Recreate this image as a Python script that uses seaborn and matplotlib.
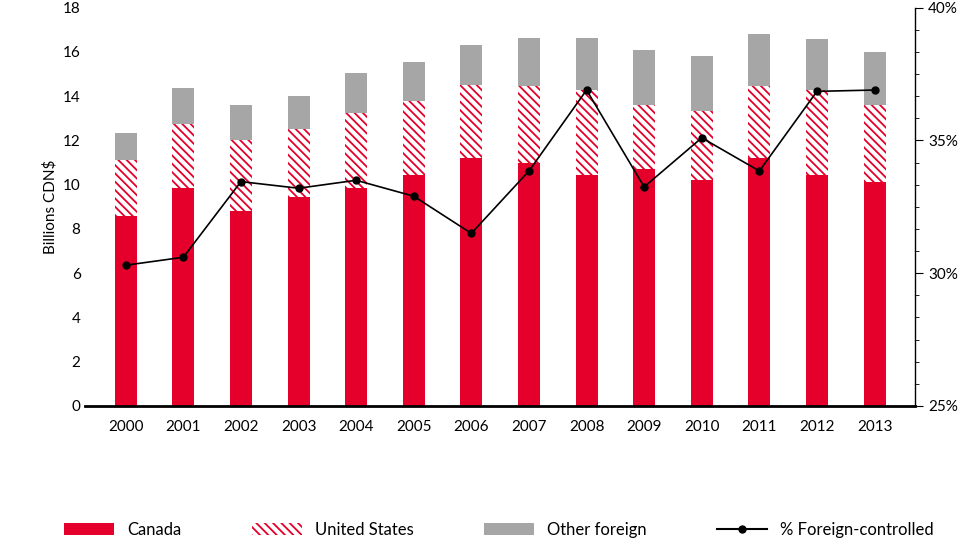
import matplotlib
matplotlib.use("Agg")
import matplotlib.pyplot as plt
import seaborn as sns
import pandas as pd
from matplotlib.patches import Patch
from matplotlib.lines import Line2D

years = [str(y) for y in range(2000, 2014)]
canada = [8.6, 9.85, 8.8, 9.45, 9.85, 10.45, 11.2, 11.0, 10.45, 10.7, 10.2, 11.2, 10.45, 10.1]
united_states = [2.5, 2.9, 3.2, 3.05, 3.4, 3.35, 3.3, 3.45, 3.85, 2.9, 3.15, 3.25, 3.85, 3.5]
other_foreign = [1.25, 1.6, 1.6, 1.5, 1.8, 1.75, 1.8, 2.2, 2.35, 2.5, 2.45, 2.35, 2.3, 2.4]
pct_foreign = [30.3, 30.6, 33.45, 33.2, 33.5, 32.9, 31.5, 33.85, 36.9, 33.25, 35.1, 33.85, 36.85, 36.9]

df = pd.DataFrame({"year": years, "canada": canada, "us": united_states, "other": other_foreign, "pct": pct_foreign})
df["cu"] = df["canada"] + df["us"]
df["total"] = df["cu"] + df["other"]

RED = "#e4002b"
GRAY = "#a6a6a6"
HATCH = "\\\\\\\\"
plt.rcParams["font.family"] = "Lato"
plt.rcParams["hatch.linewidth"] = 1.3

fig = plt.figure(figsize=(9.6, 5.53), dpi=100)
ax = fig.add_axes([0.089, 0.266, 0.864, 0.72])
W = 0.38
sns.barplot(data=df, x="year", y="total", color=GRAY, width=W, ax=ax, saturation=1, linewidth=0)
sns.barplot(data=df, x="year", y="cu", color="white", width=W, ax=ax, saturation=1,
            hatch=HATCH, edgecolor=RED, linewidth=0)
sns.barplot(data=df, x="year", y="canada", color=RED, width=W, ax=ax, saturation=1, linewidth=0)
ax.set_ylim(0, 18)
ax.set_yticks(range(0, 19, 2))
ax.set_xlim(-0.7, 13.7)
ax.set_xlabel("")
ax.set_ylabel("Billions CDN$", fontsize=11)
for s in ["top", "left", "right"]:
    ax.spines[s].set_visible(False)
ax.spines["bottom"].set_linewidth(2)
ax.tick_params(axis="y", length=0, labelsize=11)
ax.tick_params(axis="x", length=0, labelsize=11, pad=10)

ax2 = ax.twinx()
ax2.plot(range(len(years)), pct_foreign, color="black", marker="o", markersize=5, linewidth=1.2)
ax2.set_ylim(25, 40)
ax2.set_yticks([25, 30, 35, 40])
ax2.set_yticklabels(["25%", "30%", "35%", "40%"])
ax2.tick_params(axis="y", labelsize=11, direction="out", length=6)
for s in ["top", "left", "bottom"]:
    ax2.spines[s].set_visible(False)
ax2.spines["right"].set_linewidth(1)
ax2.set_yticks([25 + i * 5 / 6 for i in range(19)], minor=True)
ax2.tick_params(axis="y", which="minor", length=3)

handles = [Patch(facecolor=RED, linewidth=0),
           Patch(facecolor="white", hatch=HATCH, edgecolor=RED, linewidth=0),
           Patch(facecolor=GRAY, linewidth=0),
           Line2D([0], [0], color="black", marker="o", markersize=5)]
labels = ["Canada", "United States", "Other foreign", "% Foreign-controlled"]
fig.legend(handles, labels, loc="lower center", ncol=4, frameon=False, fontsize=12,
           bbox_to_anchor=(0.52, 0.0), columnspacing=4.2, handlelength=3)
fig.savefig("out.png", dpi=100)
